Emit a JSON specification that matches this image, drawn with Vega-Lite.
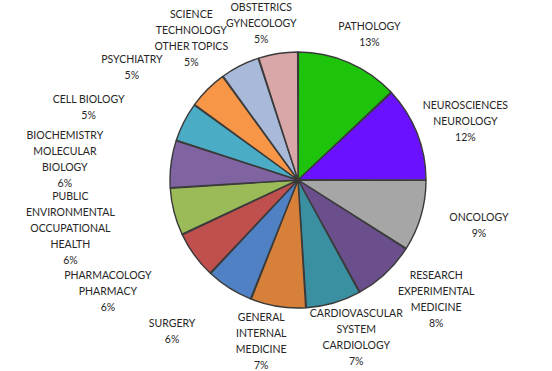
{
  "$schema": "https://vega.github.io/schema/vega-lite/v6.json",
  "width": 508,
  "height": 360,
  "autosize": "none",
  "padding": {"left": 44, "top": 0, "right": 0, "bottom": 11},
  "background": "white",
  "view": {"stroke": null},
  "data": {
    "values": [
      {"rank": 1, "category": "PATHOLOGY", "share": 13, "label": "PATHOLOGY\n13%"},
      {"rank": 2, "category": "NEUROSCIENCES NEUROLOGY", "share": 12, "label": "NEUROSCIENCES\nNEUROLOGY\n12%"},
      {"rank": 3, "category": "ONCOLOGY", "share": 9, "label": "ONCOLOGY\n9%"},
      {"rank": 4, "category": "RESEARCH EXPERIMENTAL MEDICINE", "share": 8, "label": "RESEARCH\nEXPERIMENTAL\nMEDICINE\n8%"},
      {"rank": 5, "category": "CARDIOVASCULAR SYSTEM CARDIOLOGY", "share": 7, "label": "CARDIOVASCULAR\nSYSTEM\nCARDIOLOGY\n7%"},
      {"rank": 6, "category": "GENERAL INTERNAL MEDICINE", "share": 7, "label": "GENERAL\nINTERNAL\nMEDICINE\n7%"},
      {"rank": 7, "category": "SURGERY", "share": 6, "label": "SURGERY\n6%"},
      {"rank": 8, "category": "PHARMACOLOGY PHARMACY", "share": 6, "label": "PHARMACOLOGY\nPHARMACY\n6%"},
      {"rank": 9, "category": "PUBLIC ENVIRONMENTAL OCCUPATIONAL HEALTH", "share": 6, "label": "PUBLIC\nENVIRONMENTAL\nOCCUPATIONAL\nHEALTH\n6%"},
      {"rank": 10, "category": "BIOCHEMISTRY MOLECULAR BIOLOGY", "share": 6, "label": "BIOCHEMISTRY\nMOLECULAR\nBIOLOGY\n6%"},
      {"rank": 11, "category": "CELL BIOLOGY", "share": 5, "label": "CELL BIOLOGY\n5%"},
      {"rank": 12, "category": "PSYCHIATRY", "share": 5, "label": "PSYCHIATRY\n5%"},
      {"rank": 13, "category": "SCIENCE TECHNOLOGY OTHER TOPICS", "share": 5, "label": "SCIENCE\nTECHNOLOGY\nOTHER TOPICS\n5%"},
      {"rank": 14, "category": "OBSTETRICS GYNECOLOGY", "share": 5, "label": "OBSTETRICS\nGYNECOLOGY\n5%"}
    ]
  },
  "encoding": {
    "theta": {"field": "share", "type": "quantitative", "stack": true},
    "order": {"field": "rank", "type": "quantitative"}
  },
  "layer": [
    {
      "mark": {"type": "arc", "outerRadius": 128, "stroke": "#3a3a3a", "strokeWidth": 1.4, "padAngle": 0.006},
      "encoding": {
        "color": {
          "field": "category",
          "type": "nominal",
          "legend": null,
          "scale": {
            "domain": ["PATHOLOGY", "NEUROSCIENCES NEUROLOGY", "ONCOLOGY", "RESEARCH EXPERIMENTAL MEDICINE", "CARDIOVASCULAR SYSTEM CARDIOLOGY", "GENERAL INTERNAL MEDICINE", "SURGERY", "PHARMACOLOGY PHARMACY", "PUBLIC ENVIRONMENTAL OCCUPATIONAL HEALTH", "BIOCHEMISTRY MOLECULAR BIOLOGY", "CELL BIOLOGY", "PSYCHIATRY", "SCIENCE TECHNOLOGY OTHER TOPICS", "OBSTETRICS GYNECOLOGY"],
            "range": ["#1ec40c", "#6a12ff", "#a6a6a6", "#6b4f8c", "#3a8fa1", "#d6803a", "#4f81c4", "#c0504d", "#9bbb59", "#8064a2", "#4bacc6", "#f79646", "#a9b9d9", "#d9a7a7"]
          }
        }
      }
    },
    {
      "mark": {
        "type": "text",
        "radius": 158,
        "font": "Lato",
        "fontSize": 10.5,
        "lineHeight": 16,
        "lineBreak": "\n",
        "color": "#262626",
        "align": "center",
        "baseline": "middle",
        "dx": {"expr": "sin(PI*(datum.share_start+datum.share_end)/100) * (sin(PI*(datum.share_start+datum.share_end)/100) > 0 ? 22 - (cos(PI*(datum.share_start+datum.share_end)/100) < 0 ? 30*cos(PI*(datum.share_start+datum.share_end)/100) : 0) : 77)"},
        "dy": {"expr": "-8*(length(split(datum.label, '\\n'))-1) + (cos(PI*(datum.share_start+datum.share_end)/100) < 0 ? (sin(PI*(datum.share_start+datum.share_end)/100) < 0 ? 40*cos(PI*(datum.share_start+datum.share_end)/100)*sin(PI*(datum.share_start+datum.share_end)/100) : -7*cos(PI*(datum.share_start+datum.share_end)/100)) : 0)"}
      },
      "encoding": {
        "text": {"field": "label", "type": "nominal"}
      }
    }
  ]
}
